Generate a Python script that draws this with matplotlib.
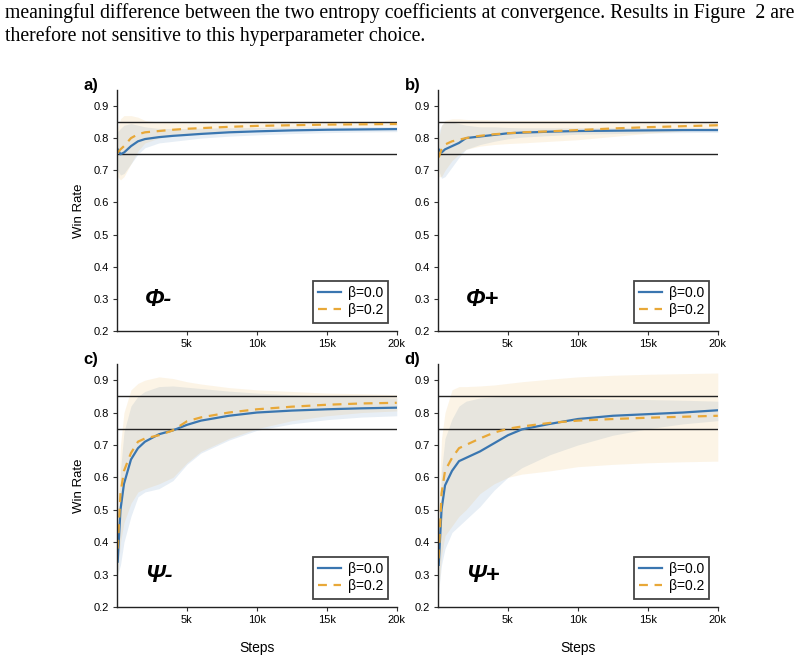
import matplotlib
matplotlib.use("Agg")
import matplotlib.pyplot as plt

plt.rcParams['font.family'] = ['Liberation Sans', 'DejaVu Sans']

steps = [50, 250, 500, 1000, 1500, 2000, 3000, 4000, 5000, 6000, 8000, 10000, 12500, 15000, 17500, 20000]

# panel a (phi-)
a_blue = [0.765, 0.75, 0.755, 0.775, 0.79, 0.797, 0.803, 0.807, 0.81, 0.813, 0.818, 0.821, 0.824, 0.826, 0.827, 0.828]
a_blue_lo = [0.70, 0.685, 0.69, 0.72, 0.75, 0.77, 0.785, 0.79, 0.795, 0.80, 0.806, 0.81, 0.814, 0.817, 0.819, 0.82]
a_blue_hi = [0.82, 0.83, 0.84, 0.845, 0.84, 0.835, 0.83, 0.83, 0.83, 0.831, 0.832, 0.833, 0.834, 0.835, 0.836, 0.836]
a_orange = [0.755, 0.765, 0.775, 0.80, 0.812, 0.818, 0.822, 0.826, 0.829, 0.831, 0.835, 0.838, 0.84, 0.842, 0.843, 0.844]
a_orange_lo = [0.68, 0.67, 0.68, 0.72, 0.76, 0.785, 0.80, 0.808, 0.813, 0.817, 0.823, 0.828, 0.832, 0.835, 0.837, 0.838]
a_orange_hi = [0.83, 0.86, 0.87, 0.87, 0.865, 0.855, 0.85, 0.848, 0.847, 0.847, 0.848, 0.849, 0.85, 0.85, 0.85, 0.85]

# panel b (phi+)
b_blue = [0.765, 0.755, 0.765, 0.775, 0.785, 0.80, 0.805, 0.81, 0.815, 0.817, 0.82, 0.822, 0.823, 0.824, 0.825, 0.825]
b_blue_lo = [0.70, 0.675, 0.68, 0.71, 0.74, 0.765, 0.78, 0.79, 0.798, 0.803, 0.808, 0.812, 0.814, 0.816, 0.817, 0.818]
b_blue_hi = [0.82, 0.84, 0.85, 0.85, 0.845, 0.84, 0.835, 0.835, 0.833, 0.832, 0.832, 0.832, 0.832, 0.832, 0.832, 0.832]
b_orange = [0.74, 0.765, 0.78, 0.79, 0.795, 0.80, 0.807, 0.812, 0.815, 0.818, 0.821, 0.825, 0.83, 0.834, 0.837, 0.84]
b_orange_lo = [0.68, 0.68, 0.70, 0.73, 0.75, 0.765, 0.775, 0.78, 0.783, 0.785, 0.79, 0.795, 0.805, 0.815, 0.822, 0.828]
b_orange_hi = [0.80, 0.84, 0.855, 0.86, 0.86, 0.858, 0.857, 0.856, 0.855, 0.855, 0.855, 0.855, 0.853, 0.852, 0.851, 0.85]

# panel c (psi-)
c_blue = [0.34, 0.50, 0.58, 0.655, 0.69, 0.71, 0.733, 0.745, 0.762, 0.775, 0.79, 0.80, 0.806, 0.81, 0.813, 0.815]
c_blue_lo = [0.30, 0.33, 0.40, 0.48, 0.54, 0.555, 0.565, 0.59, 0.64, 0.675, 0.715, 0.745, 0.765, 0.778, 0.786, 0.79]
c_blue_hi = [0.40, 0.62, 0.74, 0.82, 0.85, 0.865, 0.88, 0.882, 0.878, 0.874, 0.866, 0.86, 0.855, 0.85, 0.848, 0.845]
c_orange = [0.38, 0.55, 0.62, 0.675, 0.71, 0.72, 0.73, 0.745, 0.773, 0.785, 0.80, 0.81, 0.818, 0.824, 0.828, 0.83]
c_orange_lo = [0.30, 0.40, 0.46, 0.52, 0.555, 0.565, 0.58, 0.60, 0.645, 0.68, 0.72, 0.75, 0.775, 0.79, 0.80, 0.805]
c_orange_hi = [0.50, 0.70, 0.80, 0.87, 0.89, 0.90, 0.91, 0.905, 0.895, 0.888, 0.877, 0.87, 0.865, 0.86, 0.858, 0.855]

# panel d (psi+)
d_blue = [0.33, 0.50, 0.575, 0.62, 0.65, 0.66, 0.68, 0.705, 0.73, 0.748, 0.765, 0.78, 0.79, 0.795, 0.80, 0.807]
d_blue_lo = [0.25, 0.33, 0.38, 0.43, 0.45, 0.47, 0.51, 0.56, 0.60, 0.63, 0.67, 0.70, 0.73, 0.75, 0.765, 0.775]
d_blue_hi = [0.42, 0.62, 0.72, 0.78, 0.82, 0.835, 0.845, 0.848, 0.85, 0.85, 0.848, 0.845, 0.842, 0.84, 0.838, 0.835]
d_orange = [0.35, 0.55, 0.62, 0.66, 0.69, 0.70, 0.72, 0.738, 0.75, 0.757, 0.768, 0.775, 0.78, 0.784, 0.787, 0.79]
d_orange_lo = [0.25, 0.36, 0.42, 0.45, 0.48, 0.50, 0.55, 0.58, 0.60, 0.61, 0.62, 0.633, 0.64, 0.645, 0.648, 0.65]
d_orange_hi = [0.50, 0.72, 0.80, 0.87, 0.88, 0.88, 0.882, 0.885, 0.89, 0.895, 0.903, 0.91, 0.915, 0.918, 0.92, 0.922]

panel_letters = ["a)", "b)", "c)", "d)"]
panel_names = ["Φ-", "Φ+", "Ψ-", "Ψ+"]
xticks = [5000, 10000, 15000, 20000]
xtick_labels = ["5k", "10k", "15k", "20k"]
yticks = [0.2, 0.3, 0.4, 0.5, 0.6, 0.7, 0.8, 0.9]
refs = [0.75, 0.85]

BLUE = "#3a76b0"
ORANGE = "#e8a838"

panels = [
    (a_blue, a_blue_lo, a_blue_hi, a_orange, a_orange_lo, a_orange_hi),
    (b_blue, b_blue_lo, b_blue_hi, b_orange, b_orange_lo, b_orange_hi),
    (c_blue, c_blue_lo, c_blue_hi, c_orange, c_orange_lo, c_orange_hi),
    (d_blue, d_blue_lo, d_blue_hi, d_orange, d_orange_lo, d_orange_hi),
]

fig = plt.figure(figsize=(8.04, 6.57), dpi=100)

# caption text from the page above the figure
fig.text(0.006, 0.972, "meaningful difference between the two entropy coefficients at convergence. Results in Figure  2 are",
         family="Liberation Serif", fontsize=14.2, va="baseline")
fig.text(0.006, 0.938, "therefore not sensitive to this hyperparameter choice.",
         family="Liberation Serif", fontsize=14.2, va="baseline")

rects = [
    [0.1455, 0.4962, 0.348, 0.367],
    [0.5448, 0.4962, 0.348, 0.367],
    [0.1455, 0.0761, 0.348, 0.370],
    [0.5448, 0.0761, 0.348, 0.370],
]

for i, (rect, data) in enumerate(zip(rects, panels)):
    blue, blue_lo, blue_hi, orange, orange_lo, orange_hi = data
    ax = fig.add_axes(rect)
    ax.fill_between(steps, blue_lo, blue_hi, color=BLUE, alpha=0.12, lw=0)
    ax.fill_between(steps, orange_lo, orange_hi, color=ORANGE, alpha=0.12, lw=0)
    for r in refs:
        ax.axhline(r, color="#222222", lw=1.0)
    ax.plot(steps, blue, color=BLUE, lw=1.6, label="β=0.0")
    ax.plot(steps, orange, color=ORANGE, lw=1.6, ls=(0, (4, 3)), label="β=0.2")

    ax.set_xlim(0, 20000)
    ax.set_ylim(0.2, 0.95)
    ax.set_xticks(xticks)
    ax.set_xticklabels(xtick_labels)
    ax.set_yticks(yticks)
    ax.tick_params(labelsize=8, length=3, width=0.8, color="#333333", pad=3)
    ax.spines["top"].set_visible(False)
    ax.spines["right"].set_visible(False)
    for s in ["left", "bottom"]:
        ax.spines[s].set_color("#222222")
        ax.spines[s].set_linewidth(1.0)

    leg = ax.legend(loc="lower right", fontsize=10, fancybox=False, framealpha=1,
                    edgecolor="#444444", handlelength=1.6, borderpad=0.4,
                    borderaxespad=0.6, labelspacing=0.2, handletextpad=0.5)
    leg.get_frame().set_linewidth(1.3)

    ax.text(0.1, 0.13, panel_names[i], transform=ax.transAxes, fontsize=17,
            fontweight="bold", fontstyle="italic", va="center")
    ax.text(-0.12, 1.02, panel_letters[i], transform=ax.transAxes, fontsize=12,
            fontweight="bold", va="center")

    if i % 2 == 0:
        ax.set_ylabel("Win Rate", fontsize=9.5, labelpad=6)
    if i >= 2:
        ax.set_xlabel("Steps", fontsize=10, labelpad=11)

fig.savefig("out.png", dpi=100)
